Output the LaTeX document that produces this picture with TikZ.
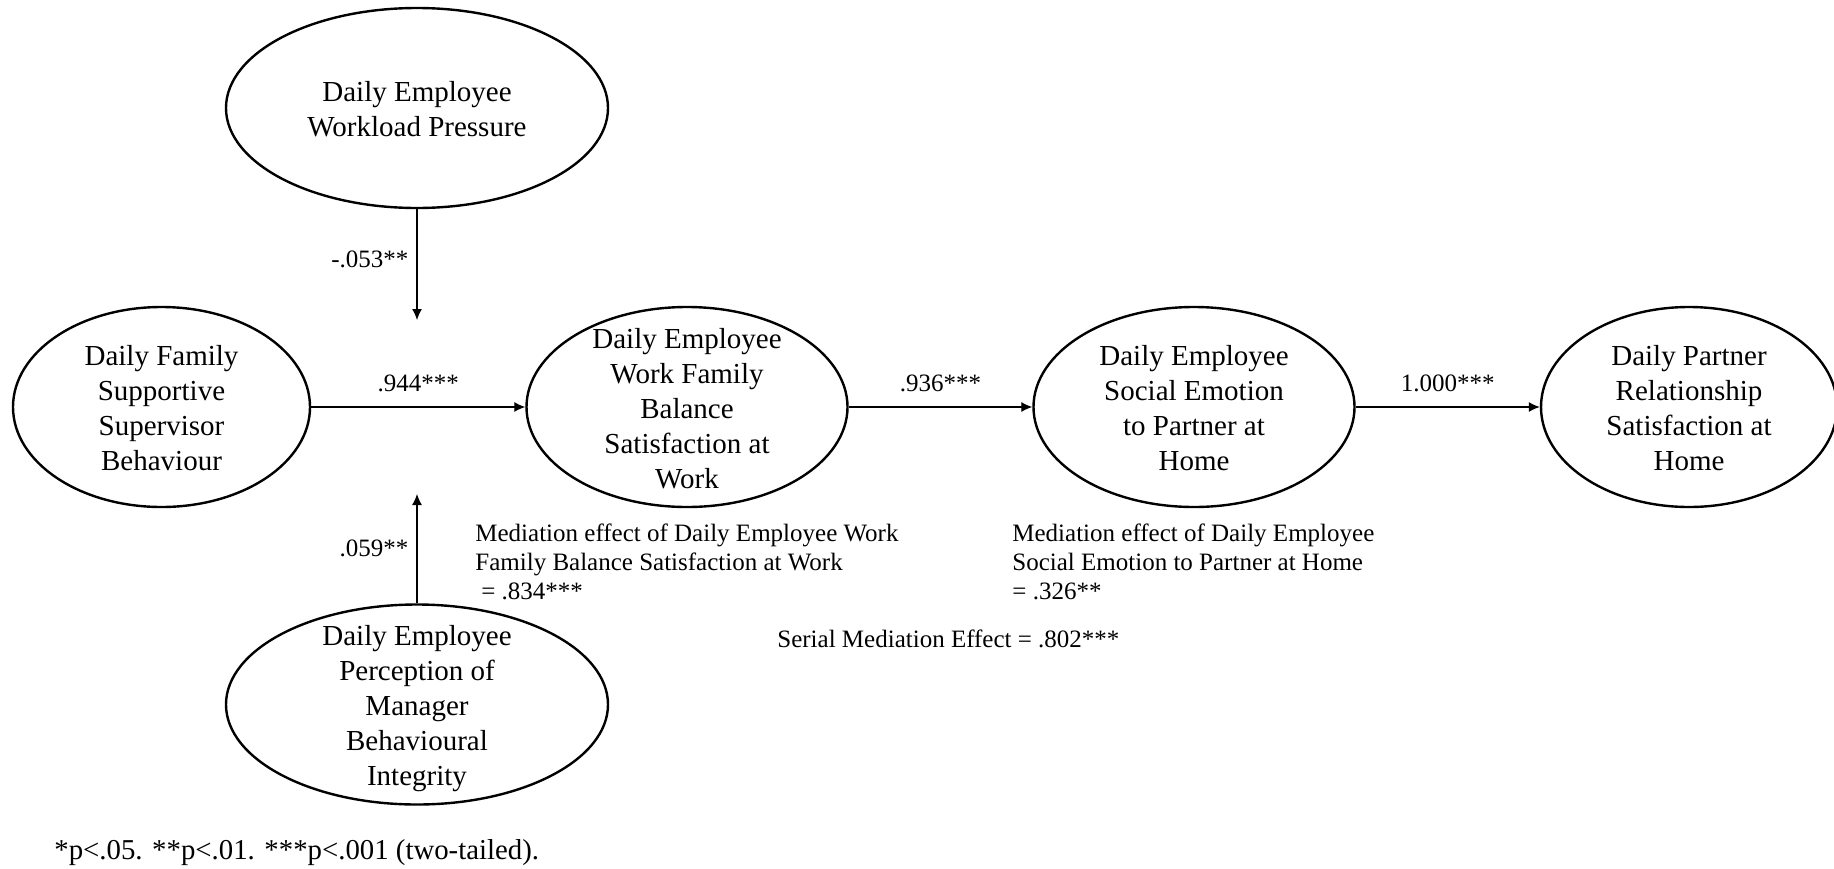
\documentclass[tikz,border=0pt]{standalone}
\usepackage{fontspec}
\setmainfont{Liberation Serif}
\usetikzlibrary{shapes.geometric,arrows.meta}
% centred stack of lines that does not enlarge the ellipse around it
\newcommand{\stacklines}[1]{\smash{\makebox[0pt]{\raisebox{\dimexpr-0.25em-2pt\relax}{\begin{tabular}{@{}c@{}}#1\end{tabular}}}}}
\begin{document}
\begin{tikzpicture}[x=0.5pt,y=-0.5pt,
  latent/.style={ellipse, draw, line width=1.2pt, inner sep=0pt,
    minimum height=100pt, font=\fontsize{14.5}{17.5}\selectfont},
  path/.style={-{Latex[length=5.5pt,width=5pt]}, line width=0.6pt},
  coef/.style={font=\fontsize{12.5}{15}\selectfont, inner sep=2pt},
  note/.style={font=\fontsize{12.5}{14.6}\selectfont, align=left,
    anchor=north west, inner sep=0pt}]
\useasboundingbox (0,0) rectangle (1834,868);
\clip (0,0) rectangle (1834,868);

% latent variables
\node[latent, minimum width=191pt] (wlp) at (417,108)
  {\stacklines{Daily Employee\\Workload Pressure}};
\node[latent, minimum width=148.5pt] (fssb) at (161.5,407)
  {\stacklines{Daily Family\\Supportive\\Supervisor\\Behaviour}};
\node[latent, minimum width=160.5pt] (wfb) at (687,407)
  {\stacklines{Daily Employee\\Work Family\\Balance\\Satisfaction at\\Work}};
\node[latent, minimum width=160.5pt] (ses) at (1194,407)
  {\stacklines{Daily Employee\\Social Emotion\\to Partner at\\Home}};
\node[latent, minimum width=148pt] (prs) at (1689,407)
  {\stacklines{Daily Partner\\Relationship\\Satisfaction at\\Home}};
\node[latent, minimum width=191pt] (pmi) at (417,704.5)
  {\stacklines{Daily Employee\\Perception of\\Manager\\Behavioural\\Integrity}};

% moderation targets on the main path
\coordinate (modtop) at (417,320);
\coordinate (modbot) at (417,494);

% paths
\draw[path] (fssb) -- node[coef, above=5.2pt] (c1) {.944***} (wfb);
\draw[path] (wfb) -- node[coef, above=5.2pt] (c2) {.936***} (ses);
\draw[path] (ses) -- node[coef, above=5.2pt] (c3) {1.000***} (prs);
\draw[path] (wlp) -- node[coef, left=2pt, pos=0.45] (c4) {-.053**} (modtop);
\draw[path] (pmi) -- node[coef, left=2pt] (c5) {.059**} (modbot);

% effect notes
\node[note] (m1) at (475,523.5)
  {Mediation effect of Daily Employee Work\\Family Balance Satisfaction at Work\\\hspace{3pt}= .834***};
\node[note] (m2) at (1012,523.5)
  {Mediation effect of Daily Employee\\Social Emotion to Partner at Home\\= .326**};
\node[note] (m3) at (777,629.5) {Serial Mediation Effect = .802***};
\node[note, font=\fontsize{14.4}{16}\selectfont] (fn) at (54,839)
  {*p<.05. **p<.01. ***p<.001 (two-tailed).};
\end{tikzpicture}
\end{document}
